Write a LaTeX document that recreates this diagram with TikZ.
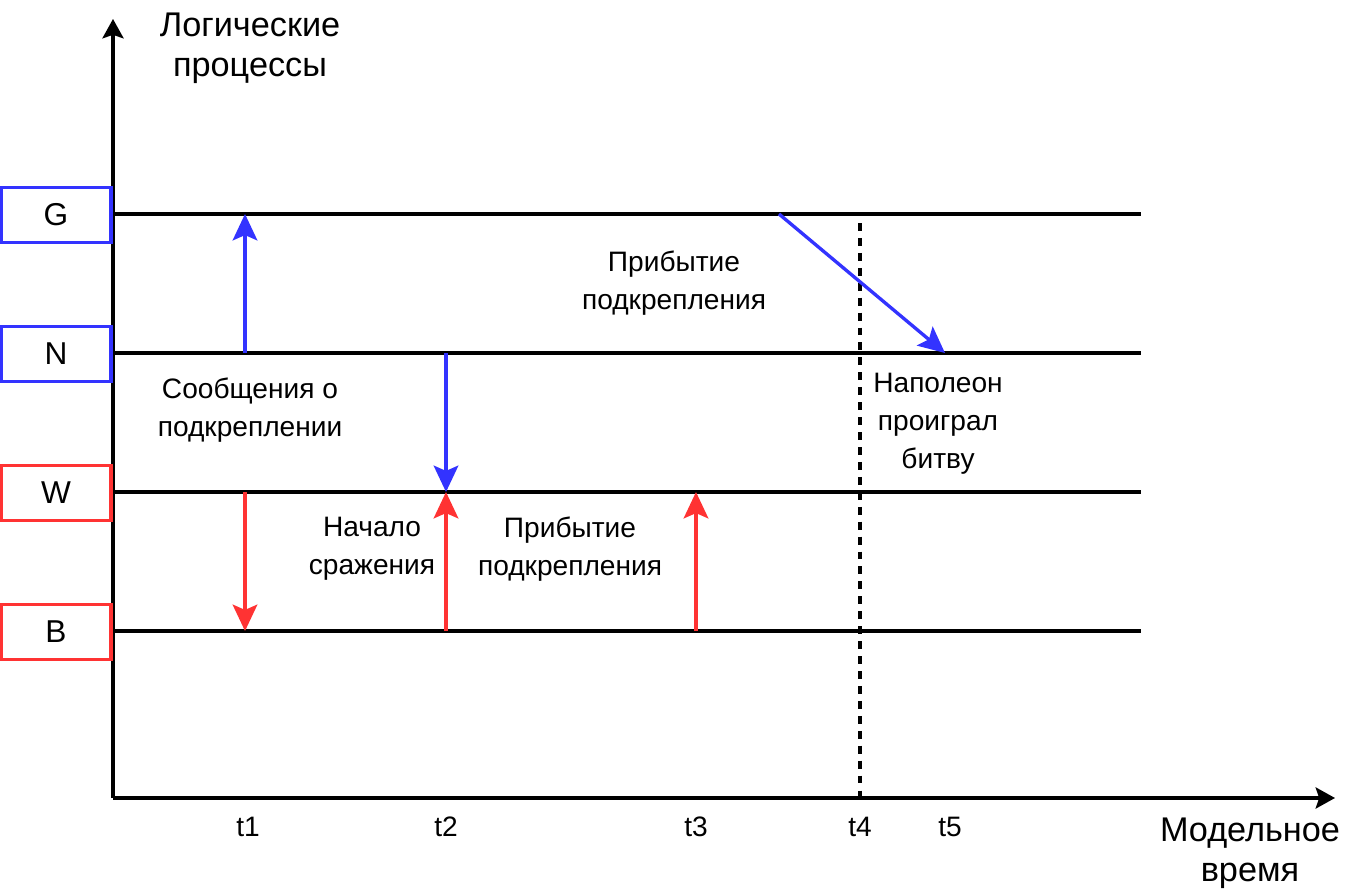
\documentclass[tikz,border=0pt]{standalone}
\usepackage{fontspec}
\setmainfont{Liberation Sans}
\usetikzlibrary{arrows.meta}

\definecolor{procblue}{HTML}{3333FF}
\definecolor{procred}{HTML}{FF3333}

\tikzset{
	proc/.style={draw,line width=1.9pt,minimum width=2.2cm,minimum height=1.1cm,inner sep=0pt,
		font=\fontsize{18}{22}\selectfont},
	lane/.style={line width=1.9pt},
	axis/.style={line width=1.9pt,-{Stealth[length=11pt,width=12pt,inset=2pt]}},
	msg/.style={line width=1.9pt,-{Stealth[length=15pt,width=14pt,inset=3pt]}},
	lbl/.style={align=center,inner sep=0pt},
	axlbl/.style={lbl,font=\fontsize{19.5}{22.7}\selectfont}
}

\begin{document}
\begin{tikzpicture}[x=0.02cm,y=-0.02cm,font=\fontsize{16}{21.5}\selectfont]

	\useasboundingbox (0,0) rectangle (1362,892);

	% Eixos
	\coordinate (O) at (113,798);
	\coordinate (Ytop) at (113,19);
	\coordinate (Xend) at (1335,798);
	\draw[axis] (O) -- (Ytop);
	\draw[axis] (O) -- (Xend);

	\node[axlbl] (ylab) at (250,48) {Логические\\процессы};
	\node[axlbl] (xlab) at (1250,853) {Модельное\\время};

	% Processos
	\node[proc,draw=procblue] (G) at (56,215) {G};
	\node[proc,draw=procblue] (N) at (56,354) {N};
	\node[proc,draw=procred] (W) at (56,493) {W};
	\node[proc,draw=procred] (B) at (56,632) {B};

	\coordinate (Gs) at (113,214);
	\coordinate (Ns) at (113,353);
	\coordinate (Ws) at (113,492);
	\coordinate (Bs) at (113,631);
	\coordinate (Ge) at (1141,214);
	\coordinate (Ne) at (1141,353);
	\coordinate (We) at (1141,492);
	\coordinate (Be) at (1141,631);

	\draw[lane] (Gs) -- (Ge);
	\draw[lane] (Ns) -- (Ne);
	\draw[lane] (Ws) -- (We);
	\draw[lane] (Bs) -- (Be);

	% Temps
	\node (t1) at (248,827) {t1};
	\node (t2) at (446,827) {t2};
	\node (t3) at (696,827) {t3};
	\node (t4) at (860,827) {t4};
	\node (t5) at (950,827) {t5};

	\coordinate (T4top) at (860,223);
	\coordinate (T4bot) at (860,798);
	\draw[lane,dash pattern=on 4.5pt off 4pt] (T4top) -- (T4bot);

	% Missatges
	\coordinate (N1) at (245,353);
	\coordinate (G1) at (245,214);
	\coordinate (N2) at (446,353);
	\coordinate (W2) at (446,492);
	\coordinate (G5) at (779,214);
	\coordinate (N5) at (945,353);
	\coordinate (W1) at (245,492);
	\coordinate (B1) at (245,631);
	\coordinate (B2) at (446,631);
	\coordinate (B3) at (696,631);
	\coordinate (W3) at (696,492);

	\draw[msg,procblue] (N1) -- (G1);
	\draw[msg,procblue] (N2) -- (W2);
	\draw[msg,procblue] (G5) -- (N5);
	\draw[msg,procred] (W1) -- (B1);
	\draw[msg,procred] (B2) -- (W2);
	\draw[msg,procred] (B3) -- (W3);

	% Etiquetes
	\node[lbl] (arrG) at (674,283) {Прибытие\\подкрепления};
	\node[lbl] (lost) at (938,424) {Наполеон\\проиграл\\битву};
	\node[lbl] (news) at (250,410) {Сообщения о\\подкреплении};
	\node[lbl] (start) at (372,549) {Начало\\сражения};
	\node[lbl] (arrW) at (570,549) {Прибытие\\подкрепления};

\end{tikzpicture}
\end{document}
